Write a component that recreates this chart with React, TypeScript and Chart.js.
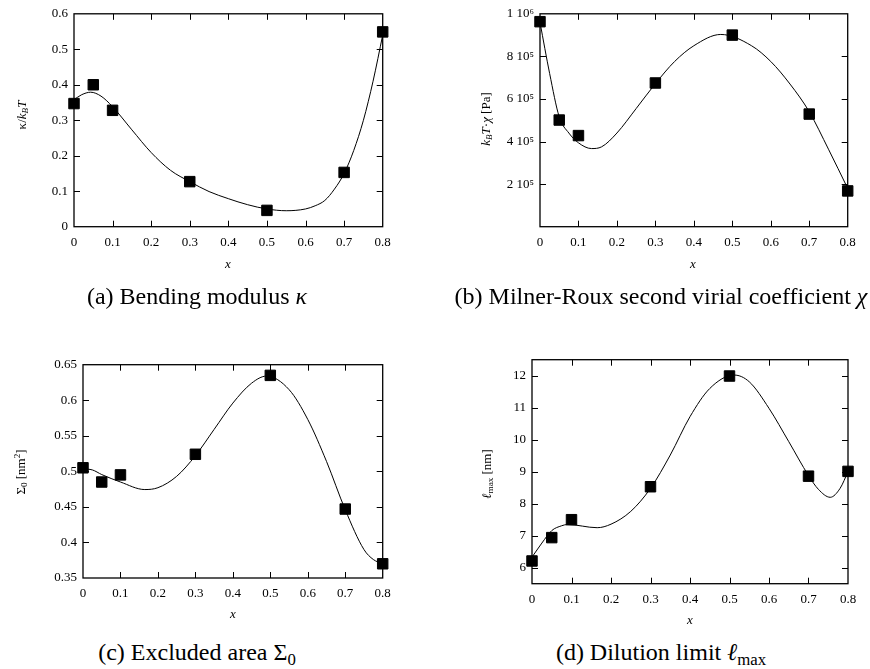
import React, { useEffect, useRef } from "react";
import { Chart, registerables } from "chart.js";

Chart.register(...registerables);

// ---------- data ----------
const xValues = [0, 0.05, 0.1, 0.3, 0.5, 0.7, 0.8];

const kappaValues = [0.347, 0.4, 0.328, 0.127, 0.046, 0.153, 0.549];
const chiValues = [9.63e5, 5.01e5, 4.28e5, 6.75e5, 9.0e5, 5.29e5, 1.68e5];
const sigmaValues = [0.505, 0.485, 0.495, 0.524, 0.635, 0.447, 0.37];
const lmaxValues = [6.21, 6.94, 7.5, 8.53, 11.99, 8.86, 9.01];

// fitted curves
const kappaFitX = [0, 0.02, 0.043, 0.07, 0.1, 0.15, 0.2, 0.25, 0.3, 0.35, 0.4, 0.45, 0.5, 0.55, 0.6, 0.625, 0.65, 0.675, 0.7, 0.725, 0.75, 0.775, 0.8];
const kappaFitY = [0.358, 0.372, 0.379, 0.368, 0.338, 0.273, 0.209, 0.159, 0.127, 0.099, 0.079, 0.062, 0.05, 0.045, 0.05, 0.059, 0.074, 0.106, 0.15, 0.215, 0.3, 0.41, 0.54];

const chiFitX = [0, 0.025, 0.05, 0.075, 0.1, 0.134, 0.16, 0.2, 0.25, 0.3, 0.35, 0.4, 0.47, 0.55, 0.6, 0.65, 0.7, 0.75, 0.8];
const chiFitY = [9.6e5, 7.2e5, 5.16e5, 4.4e5, 3.94e5, 3.67e5, 3.75e5, 4.4e5, 5.55e5, 6.72e5, 7.76e5, 8.5e5, 9.03e5, 8.5e5, 7.76e5, 6.7e5, 5.4e5, 3.64e5, 1.8e5];

const sigmaFitX = [0, 0.025, 0.05, 0.1, 0.165, 0.2, 0.25, 0.3, 0.35, 0.4, 0.45, 0.49, 0.55, 0.6, 0.65, 0.7, 0.75, 0.775, 0.8];
const sigmaFitY = [0.5035, 0.502, 0.4955, 0.485, 0.4744, 0.477, 0.493, 0.522, 0.559, 0.596, 0.624, 0.634, 0.615, 0.573, 0.514, 0.446, 0.39, 0.376, 0.37];

const lmaxFitX = [0, 0.025, 0.05, 0.075, 0.09, 0.165, 0.2, 0.25, 0.3, 0.35, 0.4, 0.45, 0.512, 0.55, 0.6, 0.65, 0.7, 0.725, 0.755, 0.78, 0.8];
const lmaxFitY = [6.33, 6.77, 7.16, 7.31, 7.35, 7.25, 7.36, 7.76, 8.48, 9.52, 10.72, 11.6, 12.02, 11.81, 10.98, 9.94, 8.88, 8.45, 8.2, 8.48, 9.0];

// tick values / labels
const xTicks = [0, 0.1, 0.2, 0.3, 0.4, 0.5, 0.6, 0.7, 0.8];
const xTickLabels = ["0", "0.1", "0.2", "0.3", "0.4", "0.5", "0.6", "0.7", "0.8"];
const kappaTicks = [0, 0.1, 0.2, 0.3, 0.4, 0.5, 0.6];
const kappaTickLabels = ["0", "0.1", "0.2", "0.3", "0.4", "0.5", "0.6"];
const chiTicks = [0, 2e5, 4e5, 6e5, 8e5, 1e6];
const chiTickLabels = ["", "2 10\u2075", "4 10\u2075", "6 10\u2075", "8 10\u2075", "1 10\u2076"];
const sigmaTicks = [0.35, 0.4, 0.45, 0.5, 0.55, 0.6, 0.65];
const sigmaTickLabels = ["0.35", "0.4", "0.45", "0.5", "0.55", "0.6", "0.65"];
const lmaxTicks = [6, 7, 8, 9, 10, 11, 12];
const lmaxTickLabels = ["6", "7", "8", "9", "10", "11", "12"];

// ---------- chart helpers ----------
const FONT = '"Liberation Serif", "Times New Roman", serif';

const framePlugin = {
  id: "gnuplotFrame",
  afterDraw(chart: any) {
    const { ctx, chartArea: a, scales } = chart;
    ctx.save();
    ctx.strokeStyle = "#000";
    ctx.lineWidth = 1;
    const L = 6;
    const xs = scales.x;
    xs.ticks.forEach((t: any) => {
      const px = Math.round(xs.getPixelForValue(t.value)) + 0.5;
      if (px <= a.left + 1.5 || px >= a.right - 1.5) return;
      ctx.beginPath();
      ctx.moveTo(px, a.bottom);
      ctx.lineTo(px, a.bottom - L);
      ctx.moveTo(px, a.top);
      ctx.lineTo(px, a.top + L);
      ctx.stroke();
    });
    const ys = scales.y;
    ys.ticks.forEach((t: any) => {
      const py = Math.round(ys.getPixelForValue(t.value)) + 0.5;
      if (py <= a.top + 1.5 || py >= a.bottom - 1.5) return;
      ctx.beginPath();
      ctx.moveTo(a.left, py);
      ctx.lineTo(a.left + L, py);
      ctx.moveTo(a.right, py);
      ctx.lineTo(a.right - L, py);
      ctx.stroke();
    });
    ctx.lineWidth = 1.3;
    ctx.strokeRect(a.left, a.top, a.right - a.left, a.bottom - a.top);
    ctx.restore();
  },
};

type PanelCfg = {
  left: number;
  top: number;
  width: number;
  height: number;
  area: { l: number; t: number; r: number; b: number };
  values: number[];
  fitX: number[];
  fitY: number[];
  yMin: number;
  yMax: number;
  yTicks: number[];
  yTickLabels: string[];
};

function Panel({ cfg }: { cfg: PanelCfg }) {
  const ref = useRef<HTMLCanvasElement | null>(null);
  useEffect(() => {
    if (!ref.current) return;
    const padTop = cfg.area.t - cfg.top;
    const padRight = cfg.left + cfg.width - cfg.area.r;
    const yWidth = cfg.area.l - cfg.left;
    const xHeight = cfg.top + cfg.height - cfg.area.b;
    const tickFont = { family: FONT, size: 13 };
    const chart = new Chart(ref.current, {
      type: "scatter",
      data: {
        datasets: [
          {
            data: xValues.map((x, i) => ({ x, y: cfg.values[i] })),
            pointStyle: "rect",
            pointRadius: 7.4,
            pointBackgroundColor: "#000",
            pointBorderColor: "#000",
            pointBorderWidth: 1,
            showLine: false,
            clip: false,
          } as any,
          {
            data: cfg.fitX.map((x, i) => ({ x, y: cfg.fitY[i] })),
            showLine: true,
            borderColor: "#000",
            borderWidth: 1,
            pointRadius: 0,
            cubicInterpolationMode: "monotone",
            fill: false,
          } as any,
        ],
      },
      options: {
        animation: false,
        responsive: false,
        events: [],
        layout: { padding: { left: 0, top: padTop, right: padRight, bottom: 0 } },
        plugins: { legend: { display: false }, tooltip: { enabled: false } },
        scales: {
          x: {
            type: "linear",
            min: 0,
            max: 0.8,
            grid: { display: false, drawTicks: false },
            border: { display: false },
            afterBuildTicks: (s: any) => {
              s.ticks = xTicks.map((v) => ({ value: v }));
            },
            afterFit: (s: any) => {
              s.height = xHeight;
            },
            ticks: {
              padding: 8,
              color: "#000",
              font: tickFont,
              maxRotation: 0,
              autoSkip: false,
              callback: (_v: any, i: number) => xTickLabels[i],
            },
          },
          y: {
            type: "linear",
            min: cfg.yMin,
            max: cfg.yMax,
            grid: { display: false, drawTicks: false },
            border: { display: false },
            afterBuildTicks: (s: any) => {
              s.ticks = cfg.yTicks.map((v) => ({ value: v }));
            },
            afterFit: (s: any) => {
              s.width = yWidth;
            },
            ticks: {
              padding: 6,
              color: "#000",
              font: tickFont,
              autoSkip: false,
              callback: (_v: any, i: number) => cfg.yTickLabels[i],
            },
          },
        },
      } as any,
      plugins: [framePlugin],
    });
    return () => chart.destroy();
  }, [cfg]);
  return (
    <canvas
      ref={ref}
      width={cfg.width}
      height={cfg.height}
      style={{ position: "absolute", left: cfg.left, top: cfg.top, width: cfg.width, height: cfg.height }}
    />
  );
}

const panels: PanelCfg[] = [
  {
    left: 0, top: 0, width: 435, height: 260,
    area: { l: 74, t: 8.7, r: 382.7, b: 226.7 },
    values: kappaValues, fitX: kappaFitX, fitY: kappaFitY,
    yMin: 0, yMax: 0.6, yTicks: kappaTicks, yTickLabels: kappaTickLabels,
  },
  {
    left: 435, top: 0, width: 435, height: 260,
    area: { l: 540, t: 8.7, r: 847.7, b: 226.7 },
    values: chiValues, fitX: chiFitX, fitY: chiFitY,
    yMin: 0, yMax: 1e6, yTicks: chiTicks, yTickLabels: chiTickLabels,
  },
  {
    left: 0, top: 300, width: 435, height: 310,
    area: { l: 83, t: 364.7, r: 382.7, b: 578 },
    values: sigmaValues, fitX: sigmaFitX, fitY: sigmaFitY,
    yMin: 0.35, yMax: 0.65, yTicks: sigmaTicks, yTickLabels: sigmaTickLabels,
  },
  {
    left: 435, top: 300, width: 435, height: 310,
    area: { l: 532, t: 359.7, r: 848, b: 583.7 },
    values: lmaxValues, fitX: lmaxFitX, fitY: lmaxFitY,
    yMin: 5.5, yMax: 12.5, yTicks: lmaxTicks, yTickLabels: lmaxTickLabels,
  },
];

function Label({ x, y, rotate, size, children }: { x: number; y: number; rotate?: boolean; size: number; children: React.ReactNode }) {
  return (
    <div
      style={{
        position: "absolute",
        left: x,
        top: y,
        transform: `translate(-50%, -50%)${rotate ? " rotate(-90deg)" : ""}`,
        whiteSpace: "nowrap",
        fontSize: size,
        lineHeight: 1,
        color: "#000",
        fontFamily: FONT,
      }}
    >
      {children}
    </div>
  );
}

const subStyle: React.CSSProperties = { fontSize: "0.7em", verticalAlign: "-0.3em", lineHeight: 0 };
const supStyle: React.CSSProperties = { fontSize: "0.7em", verticalAlign: "0.5em", lineHeight: 0 };

export default function App() {
  return (
    <div
      style={{
        position: "fixed",
        left: 0,
        top: 0,
        width: 870,
        height: 669,
        background: "#fff",
        overflow: "hidden",
        fontFamily: FONT,
      }}
    >
      {panels.map((p, i) => (
        <Panel key={i} cfg={p} />
      ))}

      {/* x axis titles */}
      <Label x={228} y={263} size={13}><i>x</i></Label>
      <Label x={693} y={263} size={13}><i>x</i></Label>
      <Label x={233} y={613} size={13}><i>x</i></Label>
      <Label x={690} y={619} size={13}><i>x</i></Label>

      {/* y axis titles */}
      <Label x={21} y={115} size={13} rotate>
        κ/<i>k</i><span style={subStyle}><i>B</i></span><i>T</i>
      </Label>
      <Label x={485} y={119} size={13} rotate>
        <i>k</i><span style={subStyle}><i>B</i></span><i>T</i>·<i>χ</i> [Pa]
      </Label>
      <Label x={20} y={472} size={13} rotate>
        Σ<span style={subStyle}>0</span> [nm<span style={supStyle}>2</span>]
      </Label>
      <Label x={486} y={474} size={13} rotate>
        <i>ℓ</i><span style={subStyle}>max</span> [nm]
      </Label>

      {/* captions */}
      <Label x={197} y={296} size={24}>
        (a) Bending modulus <i>κ</i>
      </Label>
      <Label x={661} y={296} size={24}>
        (b) Milner-Roux second virial coefficient <i>χ</i>
      </Label>
      <Label x={197} y={652} size={24}>
        (c) Excluded area Σ<span style={subStyle}>0</span>
      </Label>
      <Label x={661} y={652} size={24}>
        (d) Dilution limit <i>ℓ</i><span style={subStyle}>max</span>
      </Label>
    </div>
  );
}
